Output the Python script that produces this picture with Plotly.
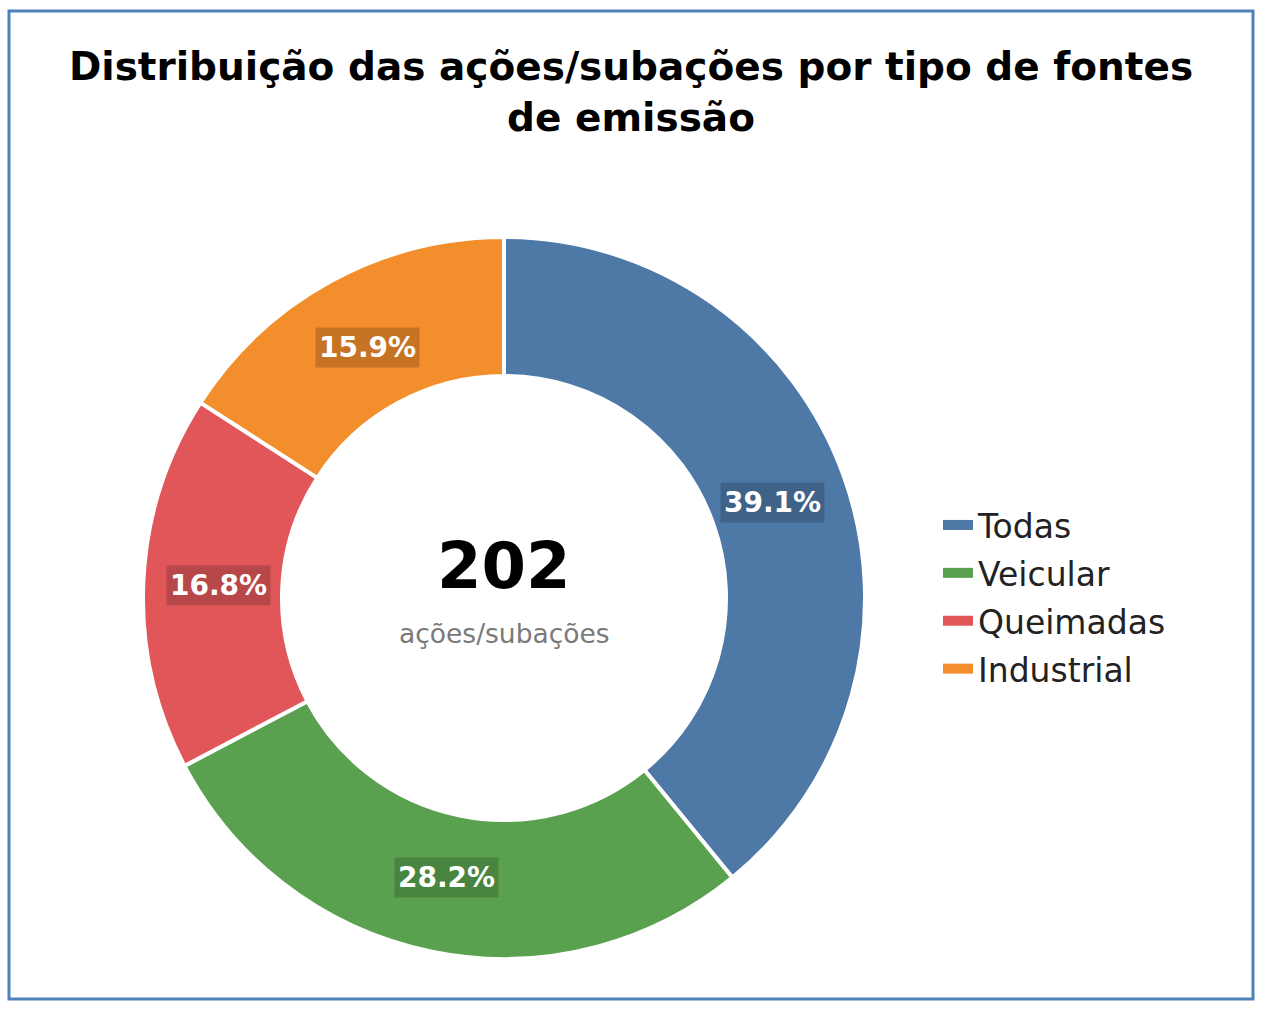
import math
import plotly.graph_objects as go

# ---- data ----
categories = ["Todas", "Veicular", "Queimadas", "Industrial"]
percentages = [39.1, 28.2, 16.8, 15.9]
total_actions = 202
colors = ["#4e79a7", "#59a14f", "#e15759", "#f28e2b"]
title_text = "Distribuição das ações/subações por tipo de fontes<br>de emissão"
center_label = "ações/subações"

W, H = 1280, 1018
FONT = "DejaVu Sans"

# pie geometry (pixels)
cx_px, cy_px, R_px = 504, 598, 361
hole = 0.615

domain_x = [(cx_px - R_px) / W, (cx_px + R_px) / W]
domain_y = [(H - cy_px - R_px) / H, (H - cy_px + R_px) / H]

fig = go.Figure()
fig.add_trace(go.Pie(
    labels=categories,
    values=percentages,
    marker=dict(colors=colors, line=dict(color="white", width=4)),
    hole=hole,
    sort=False,
    direction="clockwise",
    rotation=0,
    textinfo="none",
    hoverinfo="label+percent",
    domain=dict(x=domain_x, y=domain_y),
    showlegend=False,
))

# legend entries drawn as thick line swatches (rectangles like the reference)
for name, col in zip(categories, colors):
    fig.add_trace(go.Scatter(
        x=[None], y=[None], mode="lines", name=name,
        line=dict(color=col, width=14),
        legendgroup=name, showlegend=True, hoverinfo="skip",
    ))

# percentage labels with dark background boxes, positioned from the data
total = sum(percentages)
cum = 0
r_lbl = R_px * (1 + hole) / 2 - 6
annotations = []
for c, v in zip(categories, percentages):
    mid = (cum + v / 2) / total * 2 * math.pi
    cum += v
    px = cx_px + r_lbl * math.sin(mid)
    py = cy_px - r_lbl * math.cos(mid)
    annotations.append(dict(
        x=px / W, y=(H - py) / H, xref="paper", yref="paper",
        text=f"<b>{v:.1f}%</b>", showarrow=False,
        font=dict(family=FONT, size=28, color="white"),
        bgcolor="rgba(0,0,0,0.18)", borderpad=3,
        xanchor="center", yanchor="middle",
    ))

# center text
annotations.append(dict(
    x=cx_px / W, y=(H - 566) / H, xref="paper", yref="paper",
    text=f"<b>{total_actions}</b>", showarrow=False,
    font=dict(family=FONT, size=64, color="black"),
    xanchor="center", yanchor="middle",
))
annotations.append(dict(
    x=cx_px / W, y=(H - 633) / H, xref="paper", yref="paper",
    text=center_label, showarrow=False,
    font=dict(family=FONT, size=26.5, color="#7a7a7a"),
    xanchor="center", yanchor="middle",
))

fig.update_layout(
    width=W, height=H,
    margin=dict(l=0, r=0, t=0, b=0),
    paper_bgcolor="white",
    plot_bgcolor="white",
    xaxis=dict(visible=False),
    yaxis=dict(visible=False),
    title=dict(
        text=f"<b>{title_text}</b>",
        x=631 / W, xanchor="center",
        y=1 - 80 / H, yanchor="top",
        font=dict(family=FONT, size=39, color="black"),
    ),
    legend=dict(
        x=938 / W, xanchor="left",
        y=(H - 597) / H, yanchor="middle",
        font=dict(family=FONT, size=33, color="#222222"),
        itemsizing="trace",
        tracegroupgap=2,
        bgcolor="rgba(0,0,0,0)",
    ),
    annotations=annotations,
    shapes=[dict(
        type="rect", xref="paper", yref="paper",
        x0=9 / W, x1=1253 / W, y0=(H - 999) / H, y1=(H - 11) / H,
        line=dict(color="#4f81bd", width=3),
        fillcolor="rgba(0,0,0,0)", layer="above",
    )],
    showlegend=True,
)

fig.write_html("out.html")
